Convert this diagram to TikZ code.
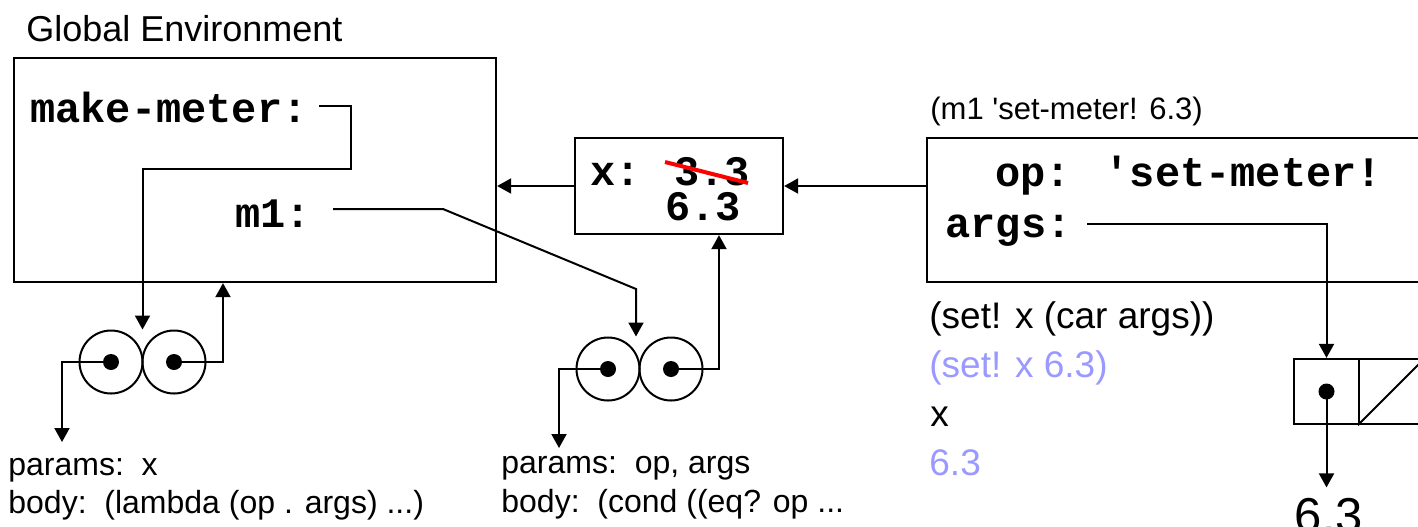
\documentclass[tikz,border=0pt]{standalone}
\usepackage{fontspec}
\setmainfont{Liberation Sans}
\newfontfamily\monob{Liberation Mono}
\usetikzlibrary{arrows.meta,calc}
\definecolor{lav}{RGB}{153,153,255}
\begin{document}
\begin{tikzpicture}[x=0.5pt,y=-0.5pt,
  box/.style={draw,line width=1.15pt,inner sep=0pt},
  wire/.style={line width=1pt},
  arr/.style={wire,-{Triangle[length=7pt,width=7.5pt]}},
  ring/.style={circle,draw,line width=1pt,minimum size=31.5pt,inner sep=0pt},
  dot/.style={circle,fill,minimum size=8pt,inner sep=0pt},
  lbl/.style={inner sep=0pt,anchor=base west},
  mono/.style={lbl,font=\monob\bfseries\fontsize{21}{25}\selectfont},
  sans/.style={lbl,font=\fontsize{18.5}{22}\selectfont},
  small/.style={lbl,font=\fontsize{16}{19}\selectfont},
  strike/.style={red,line width=2pt}]
\useasboundingbox (0,0) rectangle (1418,526);
\clip (0,0) rectangle (1418,526);

% boxes
\node[box,minimum width=241pt,minimum height=112pt] (ge) at (255,170) {};
\node[box,minimum width=104pt,minimum height=48pt] (xb) at (679,186) {};
\node[box,minimum width=261.5pt,minimum height=72pt] (fr) at (1188.5,210) {};
\node[box,minimum size=32.5pt] (cca) at (1326.5,391.5) {};
\node[box,minimum size=32.5pt] (ccb) at (1391.5,391.5) {};
\draw[wire] (ccb.south west) -- (ccb.north east);
\node[dot] (cdot) at (cca.center) {};

% labels
\node[lbl,font=\fontsize{18}{22}\selectfont] (gel) at (26,41) {Global Environment};
\node[mono] (mm) at (30,122) {make-meter:};
\node[mono] (m1) at (235,227) {m1:};
\node[mono] (xl) at (590,185) {x: 3.3};
\node[mono] (xv) at (665,220) {6.3};
\draw[strike] (665,162) -- (748,183);
\node[mono] (opl) at (995,186) {op: \textquotesingle set-meter!};
\node[mono] (argl) at (945,237) {args:};
\node[lbl,font=\fontsize{15.5}{19}\selectfont] (call) at (930,119) {(m1 \textquotesingle set-meter! 6.3)};
\node[sans] (s1) at (929,328) {(set! x (car args))};
\node[sans,text=lav] (s2) at (929,377) {(set! x 6.3)};
\node[sans] (s3) at (930,426) {x};
\node[sans,text=lav] (s4) at (929,475) {6.3};
\node[small] (pa1) at (8,475) {params:\ \ x};
\node[small] (bo1) at (8,513) {body:\ \ (lambda (op . args) ...)};
\node[small] (pa2) at (501,473) {params:\ \ op, args};
\node[small] (bo2) at (501,512) {body:\ \ (cond ((eq? op ...};
\node[inner sep=5pt,anchor=base,font=\fontsize{24.5}{28}\selectfont] (v63) at (1329,532) {6.3};

% procedure objects
\node[ring] (p1a) at (111,362) {};
\node[ring] (p1b) at (174,362) {};
\node[dot] (d1a) at (p1a.center) {};
\node[dot] (d1b) at (p1b.center) {};
\node[ring] (p2a) at (608,369) {};
\node[ring] (p2b) at (671,369) {};
\node[dot] (d2a) at (p2a.center) {};
\node[dot] (d2b) at (p2b.center) {};

% bend points
\coordinate (mmout) at (319,106);
\coordinate (mmk) at (351,169);
\coordinate (r1) at (223,362);
\coordinate (l1) at (62,362);
\coordinate (l1e) at (62,442);
\coordinate (m1out) at (333,209);
\coordinate (m1k1) at (443,209);
\coordinate (m1k2) at (636,289);
\coordinate (l2) at (559,369);
\coordinate (l2e) at (559,448);
\coordinate (r2) at (719,369);
\coordinate (argsout) at (1087,224);

% connectors
\draw[arr] (mmout) -| (mmk) -| ($(p1a.north)!0.5!(p1b.north)$);
\draw[arr] (d1b.center) -- (r1) -- (r1 |- ge.south);
\draw[arr] (d1a.center) -- (l1) -- (l1e);
\draw[arr] (m1out) -- (m1k1) -- (m1k2) -- (m1k2 |- p2a.north);
\draw[arr] (d2a.center) -- (l2) -- (l2e);
\draw[arr] (d2b.center) -- (r2) -- (r2 |- xb.south);
\draw[arr] (xb.west) -- (xb.west -| ge.east);
\draw[arr] (fr.west |- xb.east) -- (xb.east);
\draw[arr] (argsout) -| (cca.north);
\draw[arr] (cdot.center) -- (cdot.center |- v63.north);
\end{tikzpicture}
\end{document}
